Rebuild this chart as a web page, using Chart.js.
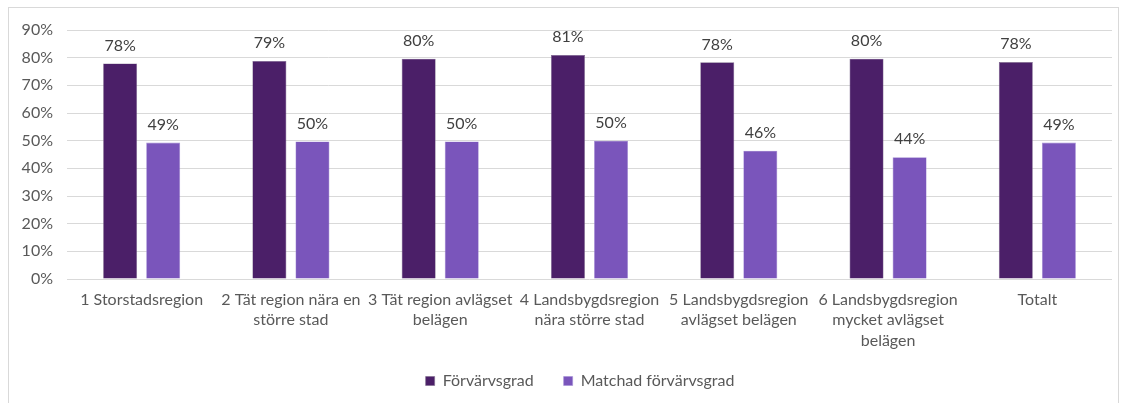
<!DOCTYPE html>
<html>
<head>
<meta charset="utf-8">
<script src="https://cdn.jsdelivr.net/npm/chart.js@4/dist/chart.umd.min.js"></script>
<style>
  html, body { margin: 0; padding: 0; background: #fff; overflow: hidden; }
  #frame {
    position: absolute; left: 8px; top: 7px; width: 1111px; height: 420px;
    border: 1px solid #d9d9d9; box-sizing: border-box;
  }
  #wrap { position: absolute; left: 0; top: 0; width: 1124px; height: 403px; }
</style>
</head>
<body>
<div id="frame"></div>
<div id="wrap"><canvas id="chart"></canvas></div>
<script>
const categories = [
  "1 Storstadsregion",
  ["2 Tät region nära en", "större stad"],
  ["3 Tät region avlägset", "belägen"],
  ["4 Landsbygdsregion", "nära större stad"],
  ["5 Landsbygdsregion", "avlägset belägen"],
  ["6 Landsbygdsregion", "mycket avlägset", "belägen"],
  "Totalt"
];
const forvarvsgrad = [77.9, 78.8, 79.6, 81.0, 78.3, 79.6, 78.4];
const matchad = [49.3, 49.7, 49.7, 50.0, 46.4, 44.0, 49.3];
const yTicks = [0, 10, 20, 30, 40, 50, 60, 70, 80, 90];

const FONT = "Lato, 'Open Sans', sans-serif";
const TEXT = "#595959";

// etiketter ovanför staplarna
const barLabels = {
  id: "barLabels",
  afterDatasetsDraw(chart) {
    const ctx = chart.ctx;
    ctx.save();
    ctx.font = "16px " + FONT;
    ctx.fillStyle = "#404040";
    ctx.textAlign = "center";
    ctx.textBaseline = "bottom";
    chart.data.datasets.forEach((ds, i) => {
      chart.getDatasetMeta(i).data.forEach((bar, j) => {
        ctx.fillText(Math.round(ds.data[j]) + "%", bar.x, bar.y - 10);
      });
    });
    ctx.restore();
  }
};

// förklaringen: större mellanrum mellan posterna och lite till höger,
// utan att förklaringsrutan blir högre
const legendShift = {
  id: "legendShift",
  beforeDraw(chart) {
    const lg = chart.legend;
    if (!lg) return;
    lg._saved = { padding: lg.options.labels.padding, top: lg.top, left: lg.left, right: lg.right };
    lg.options.labels.padding = 30;
    lg.top -= 16;
    lg.left += 8;
    lg.right += 8;
  },
  afterDraw(chart) {
    const lg = chart.legend;
    if (!lg || !lg._saved) return;
    lg.options.labels.padding = lg._saved.padding;
    lg.top = lg._saved.top;
    lg.left = lg._saved.left;
    lg.right = lg._saved.right;
  }
};

new Chart(document.getElementById("chart"), {
  type: "bar",
  data: {
    labels: categories,
    datasets: [
      {
        label: "Förvärvsgrad",
        data: forvarvsgrad,
        backgroundColor: "#4b1f68",
        borderColor: "#7d6a8c",
        borderWidth: 0.6,
        categoryPercentage: 0.577,
        barPercentage: 0.79
      },
      {
        label: "Matchad förvärvsgrad",
        data: matchad,
        backgroundColor: "#7a55bb",
        borderColor: "#a58fd6",
        borderWidth: 0.6,
        categoryPercentage: 0.577,
        barPercentage: 0.79
      }
    ]
  },
  options: {
    responsive: true,
    maintainAspectRatio: false,
    animation: false,
    layout: { padding: { top: 30, right: 12, bottom: 4, left: 0 } },
    scales: {
      x: {
        afterFit(scale) { scale.height = 80; },
        grid: { display: false },
        border: { display: false },
        ticks: {
          color: TEXT,
          font: { family: FONT, size: 16, lineHeight: 1.3 },
          maxRotation: 0,
          autoSkip: false,
          padding: 2
        }
      },
      y: {
        min: 0,
        max: 90,
        afterFit(scale) { scale.width = 67; },
        afterBuildTicks(scale) { scale.ticks = yTicks.map(v => ({ value: v })); },
        grid: { color: "#d9d9d9", lineWidth: 1, drawTicks: false },
        border: { display: false },
        ticks: {
          color: TEXT,
          font: { family: FONT, size: 16 },
          padding: 14,
          callback: v => v + "%"
        }
      }
    },
    plugins: {
      legend: {
        position: "bottom",
        labels: {
          color: TEXT,
          font: { family: FONT, size: 16 },
          boxWidth: 9,
          boxHeight: 9,
          padding: 14
        }
      },
      tooltip: { enabled: false }
    }
  },
  plugins: [barLabels, legendShift]
});
</script>
</body>
</html>
